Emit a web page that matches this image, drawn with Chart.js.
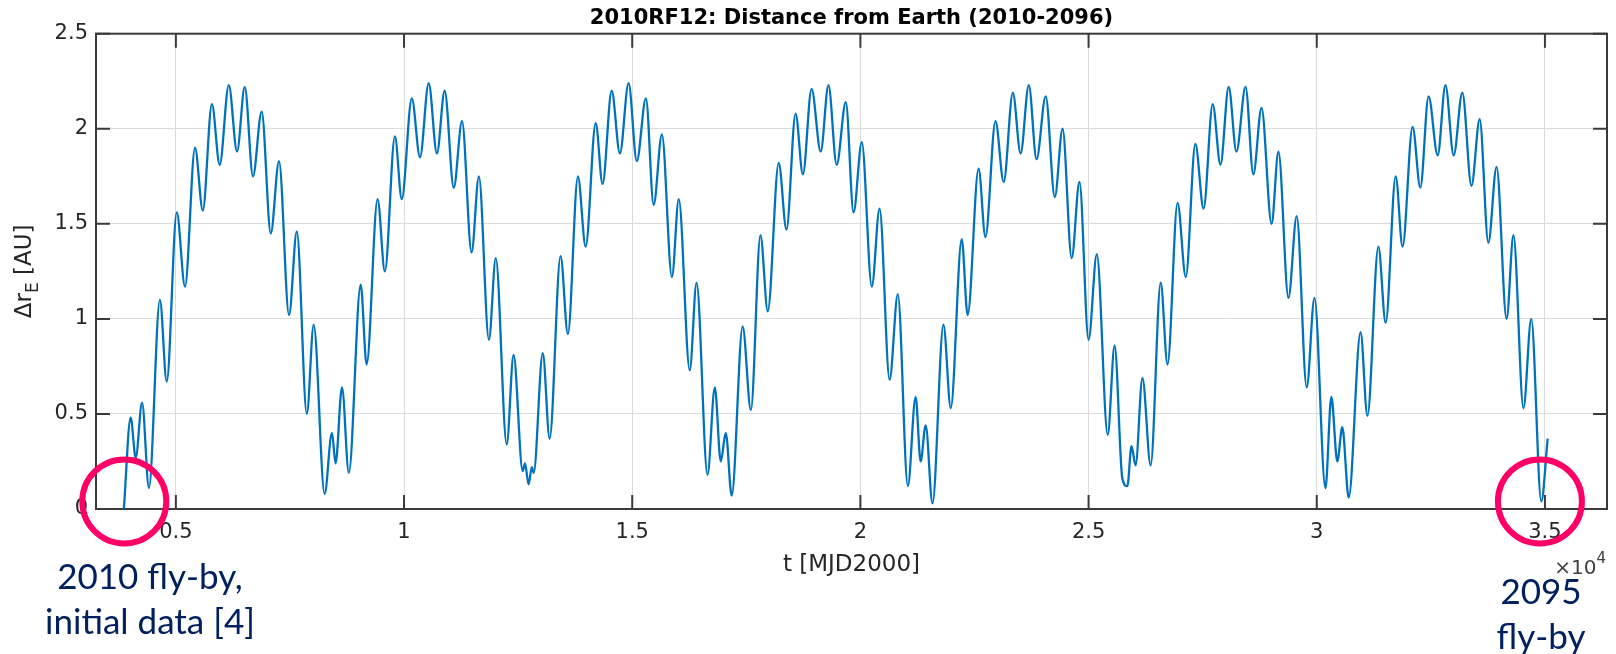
<!DOCTYPE html>
<html>
<head>
<meta charset="utf-8">
<title>2010RF12: Distance from Earth</title>
<script src="https://cdn.jsdelivr.net/npm/chart.js@4.4.0/dist/chart.umd.min.js"></script>
<style>
    html, body { margin: 0; padding: 0; background: #fff; }
    #wrap { position: relative; width: 1616px; height: 654px; overflow: hidden; }
    #distChart { position: absolute; left: 0; top: 0; }
    .note { position: absolute; font-family: Lato, 'Open Sans', sans-serif; font-size: 35px; line-height: 45px; color: #002060; text-align: center; white-space: nowrap; }
</style>
</head>
<body>
<div id="wrap">
    <canvas id="distChart" width="1616" height="654"></canvas>
    <div class="note" style="left:30px; top:553px; width:240px;">2010 fly-by,<br>initial data [4]</div>
    <div class="note" style="left:1481px; top:568px; width:120px;">2095<br>fly-by</div>
</div>
<script>
Chart.defaults.font.family = "'DejaVu Sans', Arial, sans-serif";
Chart.defaults.color = '#262626';

// Time in MJD2000 days and distance from Earth in AU (turning points of the curve)
const tDays = [
    3860, 4010, 4120, 4260, 4410, 4650, 4800, 5020, 5200, 5420, 5590, 5790, 5960, 6160, 6340, 6510, 6690, 6880, 7080, 7260, 7480, 7650, 7870, 8020, 8260, 8420, 8500, 8640, 8790,
    9050, 9180, 9420, 9580, 9800, 9950, 10170, 10350, 10540, 10720, 10890, 11090, 11270, 11480, 11640, 11860, 12010, 12250, 12400, 12600, 12650, 12730, 12800, 12840,
    13040, 13190, 13430, 13590, 13810, 13980, 14200, 14350, 14550, 14730, 14920, 15100, 15300, 15470, 15650, 15870, 16020, 16260, 16410, 16650, 16810, 16940, 17050, 17180,
    17420, 17600, 17810, 17970, 18210, 18380, 18580, 18740, 18930, 19130, 19300, 19480, 19680, 19850, 20030, 20250, 20420, 20640, 20820, 21040, 21210, 21320, 21430, 21580,
    21820, 21980, 22220, 22350, 22590, 22740, 22960, 23140, 23340, 23510, 23690, 23860, 24060, 24260, 24430, 24630, 24800, 25000, 25180, 25420, 25570, 25740, 25850, 25940, 26030, 26180, 26360,
    26580, 26730, 26950, 27130, 27340, 27520, 27720, 27890, 28070, 28240, 28440, 28610, 28790, 29010, 29160, 29380, 29560, 29780, 29950, 30190, 30320, 30450, 30560, 30700,
    30960, 31110, 31350, 31510, 31730, 31880, 32100, 32270, 32450, 32650, 32820, 33000, 33190, 33390, 33570, 33760, 33940, 34160, 34310, 34530, 34700, 34920, 35060
];
const distAU = [
    0.00, 0.48, 0.27, 0.56, 0.11, 1.10, 0.67, 1.56, 1.17, 1.90, 1.57, 2.13, 1.81, 2.23, 1.88, 2.22, 1.75, 2.09, 1.45, 1.83, 1.02, 1.46, 0.50, 0.97, 0.08, 0.40, 0.24, 0.64, 0.19,
    1.18, 0.76, 1.63, 1.25, 1.96, 1.63, 2.16, 1.85, 2.24, 1.87, 2.20, 1.69, 2.04, 1.35, 1.75, 0.89, 1.32, 0.34, 0.81, 0.20, 0.24, 0.13, 0.22, 0.19,
    0.82, 0.37, 1.33, 0.92, 1.75, 1.38, 2.03, 1.71, 2.20, 1.87, 2.24, 1.83, 2.16, 1.60, 1.97, 1.22, 1.63, 0.73, 1.19, 0.18, 0.64, 0.25, 0.40, 0.07,
    0.96, 0.52, 1.44, 1.04, 1.82, 1.47, 2.08, 1.76, 2.21, 1.88, 2.23, 1.81, 2.14, 1.56, 1.93, 1.17, 1.58, 0.68, 1.13, 0.12, 0.59, 0.25, 0.44, 0.03,
    0.97, 0.53, 1.42, 1.02, 1.79, 1.43, 2.04, 1.72, 2.19, 1.87, 2.23, 1.84, 2.17, 1.64, 2.00, 1.32, 1.72, 0.89, 1.34, 0.39, 0.86, 0.16, 0.12, 0.33, 0.23, 0.69, 0.23,
    1.19, 0.76, 1.61, 1.22, 1.92, 1.58, 2.13, 1.81, 2.22, 1.88, 2.22, 1.76, 2.11, 1.50, 1.88, 1.11, 1.54, 0.64, 1.11, 0.11, 0.59, 0.25, 0.43, 0.06,
    0.93, 0.49, 1.38, 0.98, 1.75, 1.38, 2.01, 1.69, 2.17, 1.86, 2.23, 1.86, 2.19, 1.70, 2.05, 1.40, 1.80, 1.00, 1.44, 0.53, 1.00, 0.04, 0.37
];

const xTickValues = [5000, 10000, 15000, 20000, 25000, 30000, 35000];
const yTickValues = [0, 0.5, 1, 1.5, 2, 2.5];

// fly-by markers (t, distance)
const flybyDays = [3870, 34890];
const flybyAU = [0.04, 0.04];

const axisColor = '#3a3a3a';
const tickLen = 14;

// Box around the axes with inward ticks on all four sides, y label with subscript,
// the x10^4 exponent and the fly-by circles
const matlabAxes = {
    id: 'matlabAxes',
    beforeDatasetsDraw(chart) {
        const { ctx, chartArea: a, scales: { x, y } } = chart;
        ctx.save();
        ctx.strokeStyle = axisColor;
        ctx.lineWidth = 2;
        ctx.strokeRect(a.left, a.top, a.right - a.left, a.bottom - a.top);
        ctx.beginPath();
        xTickValues.forEach(v => {
            const px = x.getPixelForValue(v);
            ctx.moveTo(px, a.bottom); ctx.lineTo(px, a.bottom - tickLen);
            ctx.moveTo(px, a.top); ctx.lineTo(px, a.top + tickLen);
        });
        yTickValues.forEach(v => {
            const py = y.getPixelForValue(v);
            ctx.moveTo(a.left, py); ctx.lineTo(a.left + tickLen, py);
            ctx.moveTo(a.right, py); ctx.lineTo(a.right - tickLen, py);
        });
        ctx.stroke();
        ctx.restore();
    },
    afterDraw(chart) {
        const { ctx, chartArea: a, scales: { x, y } } = chart;
        const big = "23px 'DejaVu Sans', Arial, sans-serif";
        const small = "17px 'DejaVu Sans', Arial, sans-serif";

        // y axis title: Δr_E [AU]
        ctx.save();
        ctx.fillStyle = '#262626';
        ctx.textBaseline = 'middle';
        ctx.textAlign = 'left';
        ctx.translate(25, (a.top + a.bottom) / 2);
        ctx.rotate(-Math.PI / 2);
        ctx.font = big;
        const w1 = ctx.measureText('Δr').width;
        const w3 = ctx.measureText(' [AU]').width;
        ctx.font = small;
        const w2 = ctx.measureText('E').width;
        let cx = -(w1 + w2 + w3) / 2;
        ctx.font = big; ctx.fillText('Δr', cx, 0); cx += w1;
        ctx.font = small; ctx.fillText('E', cx, 9); cx += w2;
        ctx.font = big; ctx.fillText(' [AU]', cx, 0);
        ctx.restore();

        // exponent of the x axis
        ctx.save();
        ctx.fillStyle = '#404040';
        ctx.textBaseline = 'middle';
        ctx.textAlign = 'right';
        ctx.font = "15px 'DejaVu Sans', Arial, sans-serif";
        ctx.fillText('4', a.right - 1, 559);
        const w4 = ctx.measureText('4').width;
        ctx.font = "20px 'DejaVu Sans', Arial, sans-serif";
        ctx.fillText('×10', a.right - 1 - w4, 569);
        ctx.restore();

        // fly-by circles
        ctx.save();
        ctx.strokeStyle = '#ff0066';
        ctx.lineWidth = 6;
        flybyDays.forEach((t, i) => {
            ctx.beginPath();
            ctx.arc(x.getPixelForValue(t), y.getPixelForValue(flybyAU[i]), 42, 0, Math.PI * 2);
            ctx.stroke();
        });
        ctx.restore();
    }
};

const points = tDays.map((t, i) => ({ x: t, y: distAU[i] }));

new Chart(document.getElementById('distChart'), {
    type: 'line',
    data: {
        datasets: [{
            data: points,
            borderColor: '#0072BD',
            borderWidth: 2.3,
            pointRadius: 0,
            fill: false,
            cubicInterpolationMode: 'monotone'
        }]
    },
    options: {
        responsive: false,
        animation: false,
        devicePixelRatio: 1,
        layout: { padding: { left: 0, right: 9, top: 0, bottom: 0 } },
        plugins: {
            legend: { display: false },
            tooltip: { enabled: false },
            title: {
                display: true,
                fullSize: false,
                text: '2010RF12: Distance from Earth (2010-2096)',
                color: '#000',
                font: { size: 21, weight: 'bold' },
                padding: { top: 6, bottom: 2.5 }
            }
        },
        scales: {
            x: {
                type: 'linear',
                min: 3250,
                max: 36360,
                afterBuildTicks: scale => { scale.ticks = xTickValues.map(v => ({ value: v })); },
                afterFit: scale => { scale.height = 145; },
                grid: { color: '#dcdcdc', lineWidth: 1, drawTicks: false },
                border: { display: false },
                ticks: { font: { size: 21 }, color: '#262626', padding: 11, maxRotation: 0, callback: v => String(v / 10000) },
                title: { display: true, text: 't [MJD2000]', color: '#262626', font: { size: 23 }, padding: { top: 0, bottom: 75 } }
            },
            y: {
                min: 0,
                max: 2.5,
                afterBuildTicks: scale => { scale.ticks = yTickValues.map(v => ({ value: v })); },
                afterFit: scale => { scale.width = 96; },
                grid: { color: '#dcdcdc', lineWidth: 1, drawTicks: false },
                border: { display: false },
                ticks: { font: { size: 21 }, color: '#262626', padding: 8, callback: v => String(v) }
            }
        }
    },
    plugins: [matlabAxes]
});
</script>
</body>
</html>
